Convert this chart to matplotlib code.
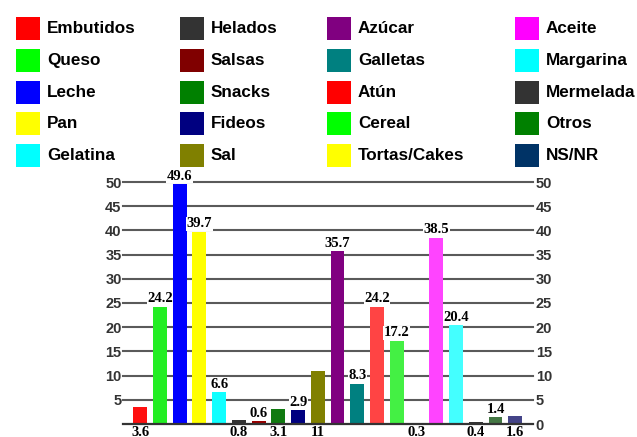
import matplotlib.pyplot as plt
from matplotlib.patches import Rectangle

# dati
categorie = ['Embutidos', 'Queso', 'Leche', 'Pan', 'Gelatina',
             'Helados', 'Salsas', 'Snacks', 'Fideos', 'Sal',
             'Azúcar', 'Galletas', 'Atún', 'Cereal', 'Tortas/Cakes',
             'Aceite', 'Margarina', 'Mermelada', 'Otros', 'NS/NR']
valori = [3.6, 24.2, 49.6, 39.7, 6.6,
          0.8, 0.6, 3.1, 2.9, 11,
          35.7, 8.3, 24.2, 17.2, 0.3,
          38.5, 20.4, 0.4, 1.4, 1.6]
etichette = ['3.6', '24.2', '49.6', '39.7', '6.6',
             '0.8', '0.6', '3.1', '2.9', '11',
             '35.7', '8.3', '24.2', '17.2', '0.3',
             '38.5', '20.4', '0.4', '1.4', '1.6']
# etichetta sotto l'asse (True) o sopra la barra (False)
sotto = [True, False, False, False, False,
         True, False, True, False, True,
         False, False, False, False, True,
         False, False, True, False, True]

col_leg = ['#ff0000', '#00ff00', '#0000ff', '#ffff00', '#00ffff',
           '#333333', '#800000', '#008000', '#000080', '#808000',
           '#800080', '#008080', '#ff0000', '#00ff00', '#ffff00',
           '#ff00ff', '#00ffff', '#333333', '#008000', '#003366']
col_bar = ['#ff1010', '#22ee22', '#0000ff', '#ffff00', '#10ffff',
           '#333333', '#990000', '#107a10', '#000080', '#808000',
           '#800080', '#008080', '#ff4444', '#44f044', '#ffff00',
           '#ff44ff', '#44ffff', '#333333', '#447744', '#444488']

W, H = 637, 437
fig = plt.figure(figsize=(W/100, H/100), dpi=100)

# legenda manuale
xcol = [16, 180, 327, 515]
yrow = [28.5, 60.5, 92.5, 123.5, 155.5]
for i, nome in enumerate(categorie):
    c, r = i // 5, i % 5
    x0, yc = xcol[c], yrow[r]
    fig.patches.append(Rectangle((x0/W, 1-(yc+11.5)/H), 24/W, 23/H,
                                 transform=fig.transFigure, facecolor=col_leg[i],
                                 edgecolor='none'))
    fig.text((x0+31)/W, 1-yc/H, nome, fontsize=12.3, fontweight='bold',
             family='Liberation Sans', va='center', ha='left')

# grafico
ax = fig.add_axes((123/W, (H-424)/H, 410/W, 242/H))
x = list(range(len(valori)))
ax.bar(x, valori, width=0.7, color=col_bar, zorder=3)
ax.set_xlim(-0.87, 19.9)
ax.set_ylim(0, 50)
for yv in range(5, 55, 5):
    ax.axhline(yv, color='#5a5a5a', lw=1.5, zorder=1, clip_on=False)
ax.axhline(0, color='#333333', lw=1.6, zorder=4, clip_on=False)

for s in ax.spines.values():
    s.set_visible(False)
ax.set_xticks([])
ax.set_yticks(range(0, 55, 5))
ax.set_yticklabels([''] + [str(v) for v in range(5, 55, 5)])
ax.tick_params(axis='y', length=0, pad=1, labelsize=10.5)
ax2 = ax.secondary_yaxis('right')
ax2.set_yticks(range(0, 55, 5))
ax2.tick_params(length=0, pad=2, labelsize=10.5)
ax2.spines['right'].set_visible(False)
for lab in ax.get_yticklabels() + ax2.get_yticklabels():
    lab.set_fontweight('bold')
    lab.set_family('Liberation Sans')
    lab.set_color('#333333')

for i in range(len(valori)):
    if sotto[i]:
        ax.annotate(etichette[i], (x[i], 0), xytext=(0, -1.5), textcoords='offset points',
                    ha='center', va='top', fontsize=10.5, fontweight='bold',
                    family='Liberation Serif', annotation_clip=False, zorder=5)
    else:
        ax.annotate(etichette[i], (x[i], valori[i]), xytext=(0, 1), textcoords='offset points',
                    ha='center', va='bottom', fontsize=10.5, fontweight='bold',
                    family='Liberation Serif', annotation_clip=False, zorder=5,
                    bbox=dict(facecolor='white', edgecolor='none', pad=0.3))

fig.savefig('out.png', dpi=100)
